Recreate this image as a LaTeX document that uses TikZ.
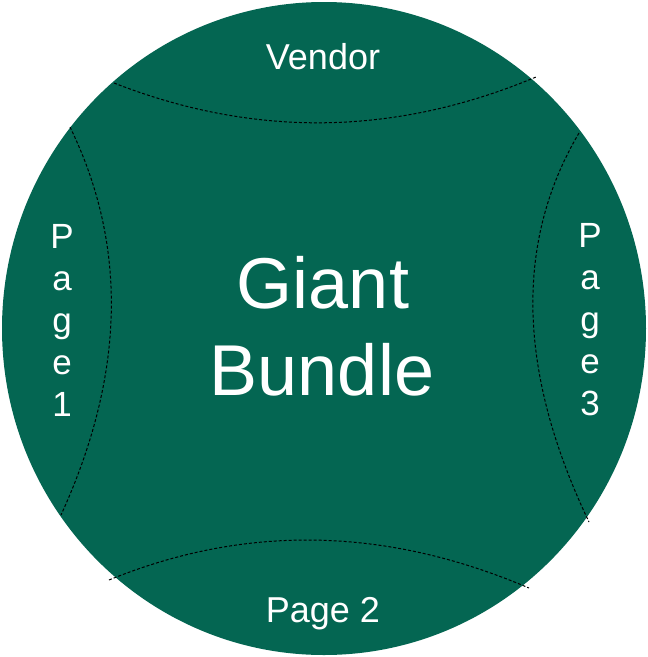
\documentclass[tikz,border=0pt]{standalone}
\usepackage{fontspec}
\setmainfont{Liberation Sans}
\usepackage{tikz}
\usetikzlibrary{positioning}
\usepackage{xcolor}
\definecolor{gbgreen}{RGB}{4,102,82}
\tikzstyle{seam} = [black, dashed, line width=1pt, dash pattern=on 3pt off 2pt]

\begin{document}
\begin{tikzpicture}[
    x=1pt, y=-1pt,
    part/.style={text=white, inner sep=0pt, font=\fontsize{36}{42}\selectfont},
    stack/.style={part, align=center, font=\fontsize{35}{42}\selectfont},
    core/.style={text=white, inner sep=0pt, align=center, font=\fontsize{72}{87}\selectfont}
]
\useasboundingbox (0,0) rectangle (648,657);

% Bundle disc
\fill[gbgreen] (324,328.5) ellipse [x radius=322, y radius=326.5];

% Seam end points
\coordinate (vl) at (114,83);
\coordinate (vr) at (536,77);
\coordinate (bl) at (109,580);
\coordinate (br) at (529,588);
\coordinate (lt) at (70,127);
\coordinate (lb) at (61,515);
\coordinate (rt) at (579,133);
\coordinate (rb) at (589,522);

% Seams
\draw[seam] (vl) .. controls (255,138) and (395,136) .. (vr);
\draw[seam] (bl) .. controls (246,524) and (386,527) .. (br);
\draw[seam] (lt) .. controls (128,246) and (125,375) .. (lb);
\draw[seam] (rt) .. controls (514,243) and (518,373) .. (rb);

% Central label
\node (giant) [core, anchor=base] at (323,308) {Giant};
\node (bundle) [core, anchor=base] at (322,395) {Bundle};

% Outer parts
\node (vendor) [part, anchor=base] at (323,69) {Vendor};
\node (page2) [part, anchor=base] at (323,622) {Page 2};
\node (page1) [stack] at (62,320) {P\\a\\g\\e\\1};
\node (page3) [stack] at (590,320) {P\\a\\g\\e\\3};
\end{tikzpicture}
\end{document}
